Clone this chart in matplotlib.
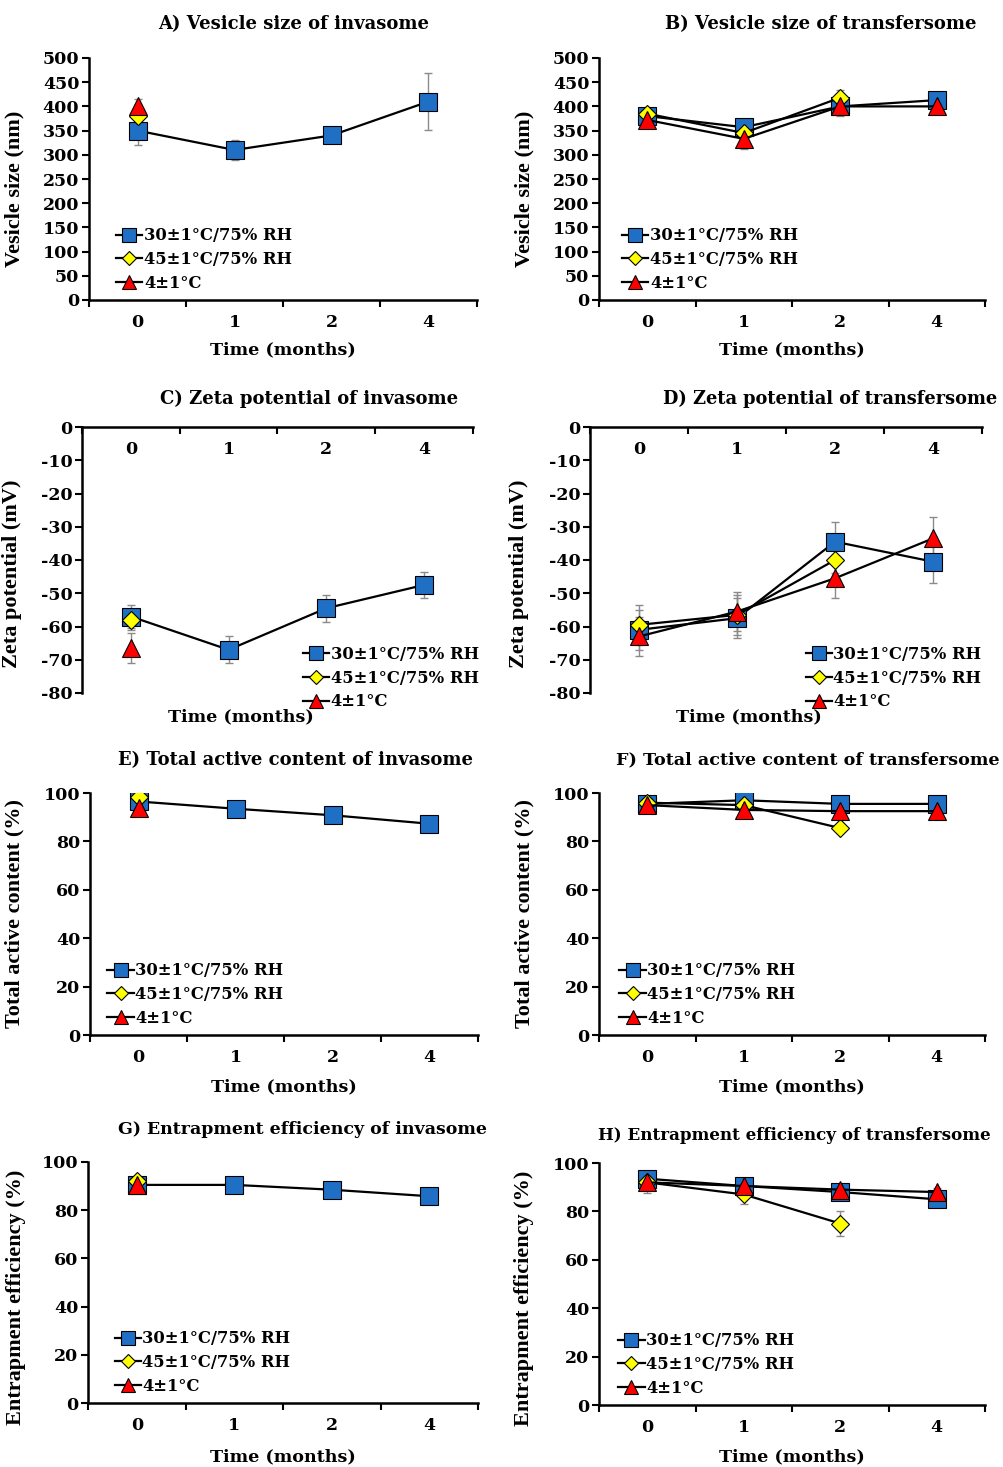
import matplotlib
matplotlib.use('Agg')
import matplotlib.pyplot as plt
import numpy as np

plt.rcParams['font.family'] = ['DejaVu Serif']
plt.rcParams['font.weight'] = 'bold'
plt.rcParams['axes.unicode_minus'] = False

time_labels = ['0', '1', '2', '4']
series_labels = ['30\u00b11\u00b0C/75% RH', '45\u00b11\u00b0C/75% RH', '4\u00b11\u00b0C']

# A) vesicle size of invasome (nm)
size_inv_30 = [350, 310, 340, 410]
size_inv_30_err = [30, 20, 8, 58]
size_inv_45 = [380]
size_inv_45_err = [10]
size_inv_4 = [400]
size_inv_4_err = [15]

# B) vesicle size of transfersome (nm)
size_tra_30 = [380, 357, 400, 413]
size_tra_30_err = [12, 15, 15, 10]
size_tra_45 = [385, 345, 418]
size_tra_45_err = [12, 15, 15]
size_tra_4 = [372, 333, 400, 400]
size_tra_4_err = [15, 22, 20, 10]

# C) zeta potential of invasome (mV)
zeta_inv_30 = [-57, -67, -54.5, -47.5]
zeta_inv_30_err = [3.5, 4, 4, 4]
zeta_inv_45 = [-58]
zeta_inv_45_err = [3]
zeta_inv_4 = [-66.5]
zeta_inv_4_err = [4.5]

# D) zeta potential of transfersome (mV)
zeta_tra_30 = [-61, -57.5, -34.5, -40.5]
zeta_tra_30_err = [6, 6, 6, 6.5]
zeta_tra_45 = [-59.5, -56.5, -40]
zeta_tra_45_err = [6, 6, 4]
zeta_tra_4 = [-63, -55.5, -45.5, -33.5]
zeta_tra_4_err = [6, 6, 6, 6.5]

# E) total active content of invasome (%)
tac_inv_30 = [96.5, 93.5, 90.8, 87.3]
tac_inv_30_err = [1, 1, 1, 1]
tac_inv_45 = [98.5]
tac_inv_45_err = [1]
tac_inv_4 = [94]
tac_inv_4_err = [1]

# F) total active content of transfersome (%)
tac_tra_30 = [95.5, 97, 95.5, 95.5]
tac_tra_30_err = [1, 1, 1, 1]
tac_tra_45 = [96, 95, 85.5]
tac_tra_45_err = [1, 1, 1]
tac_tra_4 = [95, 93, 92.5, 92.5]
tac_tra_4_err = [1, 1, 1, 1]

# G) entrapment efficiency of invasome (%)
ee_inv_30 = [90.5, 90.5, 88.5, 85.8]
ee_inv_30_err = [1, 1, 1, 1]
ee_inv_45 = [92]
ee_inv_45_err = [1]
ee_inv_4 = [90.5]
ee_inv_4_err = [1]

# H) entrapment efficiency of transfersome (%)
ee_tra_30 = [93.5, 90.5, 88, 85]
ee_tra_30_err = [2, 2, 2, 1.5]
ee_tra_45 = [92, 87, 75]
ee_tra_45_err = [3, 4, 5]
ee_tra_4 = [92, 90.5, 89, 88]
ee_tra_4_err = [4.5, 3, 2, 1.5]

W, H = 1004, 1467
fig = plt.figure(figsize=(W / 100, H / 100), dpi=100)

styles = [dict(marker='s', mfc='#1f6fc4', ms=12.5),
          dict(marker='D', mfc='#ffff00', ms=9),
          dict(marker='^', mfc='#ff0000', ms=13.5)]


def px_axes(l, t, r, b):
    return fig.add_axes([l / W, 1 - b / H, (r - l) / W, (b - t) / H])


def panel(box, series, ylim, yticks, ylabel, title, title_xy,
          ylab_xy, xlab_xy, leg_xy, zeta=False, title_size=13):
    ax = px_axes(*box)
    for (y, err), st in zip(series, styles):
        x = np.arange(len(y))
        ax.errorbar(x, y, yerr=err, fmt='none', ecolor='#8a8a8a',
                    elinewidth=1, capsize=3, capthick=1, zorder=2)
        ax.plot(x, y, color='black', lw=1.6, mec='black', mew=0.8,
                zorder=3, **st)
    ax.set_xlim(-0.5, 3.5)
    ax.set_ylim(*ylim)
    ax.set_yticks(yticks)
    ax.set_xticks([-0.5, 0.5, 1.5, 2.5, 3.5])
    ax.set_xticklabels([])
    ax.set_xticks(range(4), minor=True)
    ax.set_xticklabels(time_labels, minor=True, fontweight='bold')
    ax.set_yticklabels([str(v) for v in yticks], fontweight='bold')
    ax.tick_params(axis='x', which='major', direction='out', length=5, width=1.5)
    ax.tick_params(axis='x', which='minor', length=0, pad=10, labelsize=12.5)
    ax.tick_params(axis='y', direction='out', length=5, width=1.5, pad=2,
                   labelsize=12.5)
    for s in ['top', 'right']:
        ax.spines[s].set_visible(False)
    for s in ['left', 'bottom']:
        ax.spines[s].set_linewidth(1.8)
    if zeta:
        ax.spines['bottom'].set_position(('data', 0))
    ax.set_ylabel(ylabel, fontsize=16, fontweight='bold',
                  family='Liberation Serif')
    ax.yaxis.set_label_coords(*ylab_xy)
    ax.text(xlab_xy[0], xlab_xy[1], 'Time (months)', transform=ax.transAxes,
            ha='center', va='center', fontsize=12.6, fontweight='bold')
    fig.text(title_xy[0] / W, 1 - title_xy[1] / H, title, ha='center',
             va='center', fontsize=title_size, fontweight='bold')
    ax.legend(series_labels, loc='lower left', bbox_to_anchor=leg_xy,
              frameon=False, borderpad=0, borderaxespad=0, handlelength=1.6,
              handletextpad=0.1, labelspacing=0.4, markerscale=0.75,
              numpoints=1, prop={'size': 11.8, 'weight': 'bold'})
    return ax


panel((89, 58, 477, 300),
      [(size_inv_30, size_inv_30_err), (size_inv_45, size_inv_45_err),
       (size_inv_4, size_inv_4_err)],
      (0, 500), list(range(0, 501, 50)), 'Vesicle size (nm)',
      'A) Vesicle size of invasome', (294, 24),
      (-0.165, 0.46), (0.5, -0.207), (0.07, 0.035))

panel((599, 58, 985, 300),
      [(size_tra_30, size_tra_30_err), (size_tra_45, size_tra_45_err),
       (size_tra_4, size_tra_4_err)],
      (0, 500), list(range(0, 501, 50)), 'Vesicle size (nm)',
      'B) Vesicle size of transfersome', (821, 24),
      (-0.168, 0.46), (0.5, -0.207), (0.06, 0.035))

panel((82, 427, 473, 693),
      [(zeta_inv_30, zeta_inv_30_err), (zeta_inv_45, zeta_inv_45_err),
       (zeta_inv_4, zeta_inv_4_err)],
      (-80, 0), list(range(-80, 1, 10)), 'Zeta potential (mV)',
      'C) Zeta potential of invasome', (309, 399),
      (-0.153, 0.45), (0.407, -0.09), (0.565, -0.065), zeta=True)

panel((590, 427, 982, 693),
      [(zeta_tra_30, zeta_tra_30_err), (zeta_tra_45, zeta_tra_45_err),
       (zeta_tra_4, zeta_tra_4_err)],
      (-80, 0), list(range(-80, 1, 10)), 'Zeta potential (mV)',
      'D) Zeta potential of transfersome', (830, 399),
      (-0.156, 0.45), (0.405, -0.09), (0.55, -0.065), zeta=True,
      title_size=12.8)

panel((90, 793, 478, 1035),
      [(tac_inv_30, tac_inv_30_err), (tac_inv_45, tac_inv_45_err),
       (tac_inv_4, tac_inv_4_err)],
      (0, 100), list(range(0, 101, 20)), 'Total active content (%)',
      'E) Total active content of invasome', (295, 760),
      (-0.168, 0.5), (0.5, -0.215), (0.045, 0.035))

panel((599, 793, 985, 1035),
      [(tac_tra_30, tac_tra_30_err), (tac_tra_45, tac_tra_45_err),
       (tac_tra_4, tac_tra_4_err)],
      (0, 100), list(range(0, 101, 20)), 'Total active content (%)',
      'F) Total active content of transfersome', (808, 760),
      (-0.168, 0.5), (0.5, -0.215), (0.053, 0.035), title_size=12.6)

panel((88, 1162, 478, 1403),
      [(ee_inv_30, ee_inv_30_err), (ee_inv_45, ee_inv_45_err),
       (ee_inv_4, ee_inv_4_err)],
      (0, 100), list(range(0, 101, 20)), 'Entrapment efficiency (%)',
      'G) Entrapment efficiency of invasome', (302, 1130),
      (-0.16, 0.44), (0.5, -0.224), (0.068, 0.035), title_size=12.5)

panel((599, 1163, 985, 1405),
      [(ee_tra_30, ee_tra_30_err), (ee_tra_45, ee_tra_45_err),
       (ee_tra_4, ee_tra_4_err)],
      (0, 100), list(range(0, 101, 20)), 'Entrapment efficiency (%)',
      'H) Entrapment efficiency of transfersome', (794, 1135),
      (-0.168, 0.44), (0.5, -0.215), (0.05, 0.035), title_size=12.1)

plt.savefig('out.png', dpi=100)
